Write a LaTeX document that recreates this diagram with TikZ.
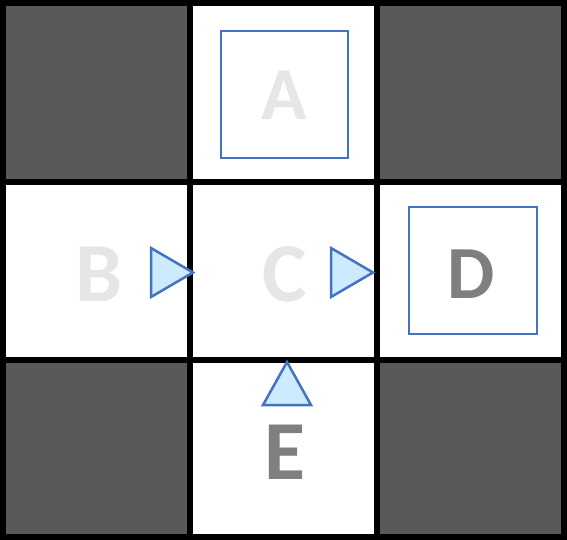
\documentclass[tikz,border=0pt]{standalone}
\usepackage{fontspec}
\setmainfont{Carlito}
\definecolor{darkcell}{HTML}{595959}
\definecolor{boxblue}{HTML}{4472C4}
\definecolor{trifill}{HTML}{CDEBFE}
\definecolor{lightletter}{HTML}{E6E6E6}
\definecolor{darkletter}{HTML}{7F7F7F}
\tikzset{
  darkcellstyle/.style={fill=darkcell},
  gridline/.style={line width=6pt, black},
  roombox/.style={draw=boxblue, line width=2.5pt},
  doortri/.style={draw=boxblue, fill=trifill, line width=2.5pt, line join=miter},
  bigletter/.style={inner sep=0pt, font=\fontsize{84}{84}\selectfont\bfseries},
  midletter/.style={inner sep=0pt, font=\fontsize{75}{75}\selectfont\bfseries}
}
\begin{document}
\begin{tikzpicture}[x=1pt,y=-1pt]
\useasboundingbox (0,0) rectangle (567,540);
% dark corner cells
\fill[darkcellstyle] (3,3) rectangle (190,182);
\fill[darkcellstyle] (377,3) rectangle (564,182);
\fill[darkcellstyle] (3,360) rectangle (190,537);
\fill[darkcellstyle] (377,360) rectangle (564,537);
% grid
\draw[gridline] (3,3) rectangle (564,537);
\draw[gridline] (190,0) -- (190,540);
\draw[gridline] (377,0) -- (377,540);
\draw[gridline] (0,182) -- (567,182);
\draw[gridline] (0,360) -- (567,360);
% rooms
\draw[roombox] (221,31) rectangle (348,158);
\draw[roombox] (409,207) rectangle (537,334);
% doors
\draw[doortri] (151,248) -- (193,272.5) -- (151,297) -- cycle;
\draw[doortri] (331,248) -- (373,272.5) -- (331,297) -- cycle;
\draw[doortri] (263,405) -- (287,362) -- (311,405) -- cycle;
% letters
\node[midletter, text=lightletter] (A) at (284.5,95.5) {A};
\node[bigletter, text=lightletter] (B) at (99.5,274) {B};
\node[bigletter, text=lightletter] (C) at (285,274) {C};
\node[midletter, text=darkletter] (D) at (471.5,274) {D};
\node[bigletter, text=darkletter] (E) at (285,452) {E};
\end{tikzpicture}
\end{document}
